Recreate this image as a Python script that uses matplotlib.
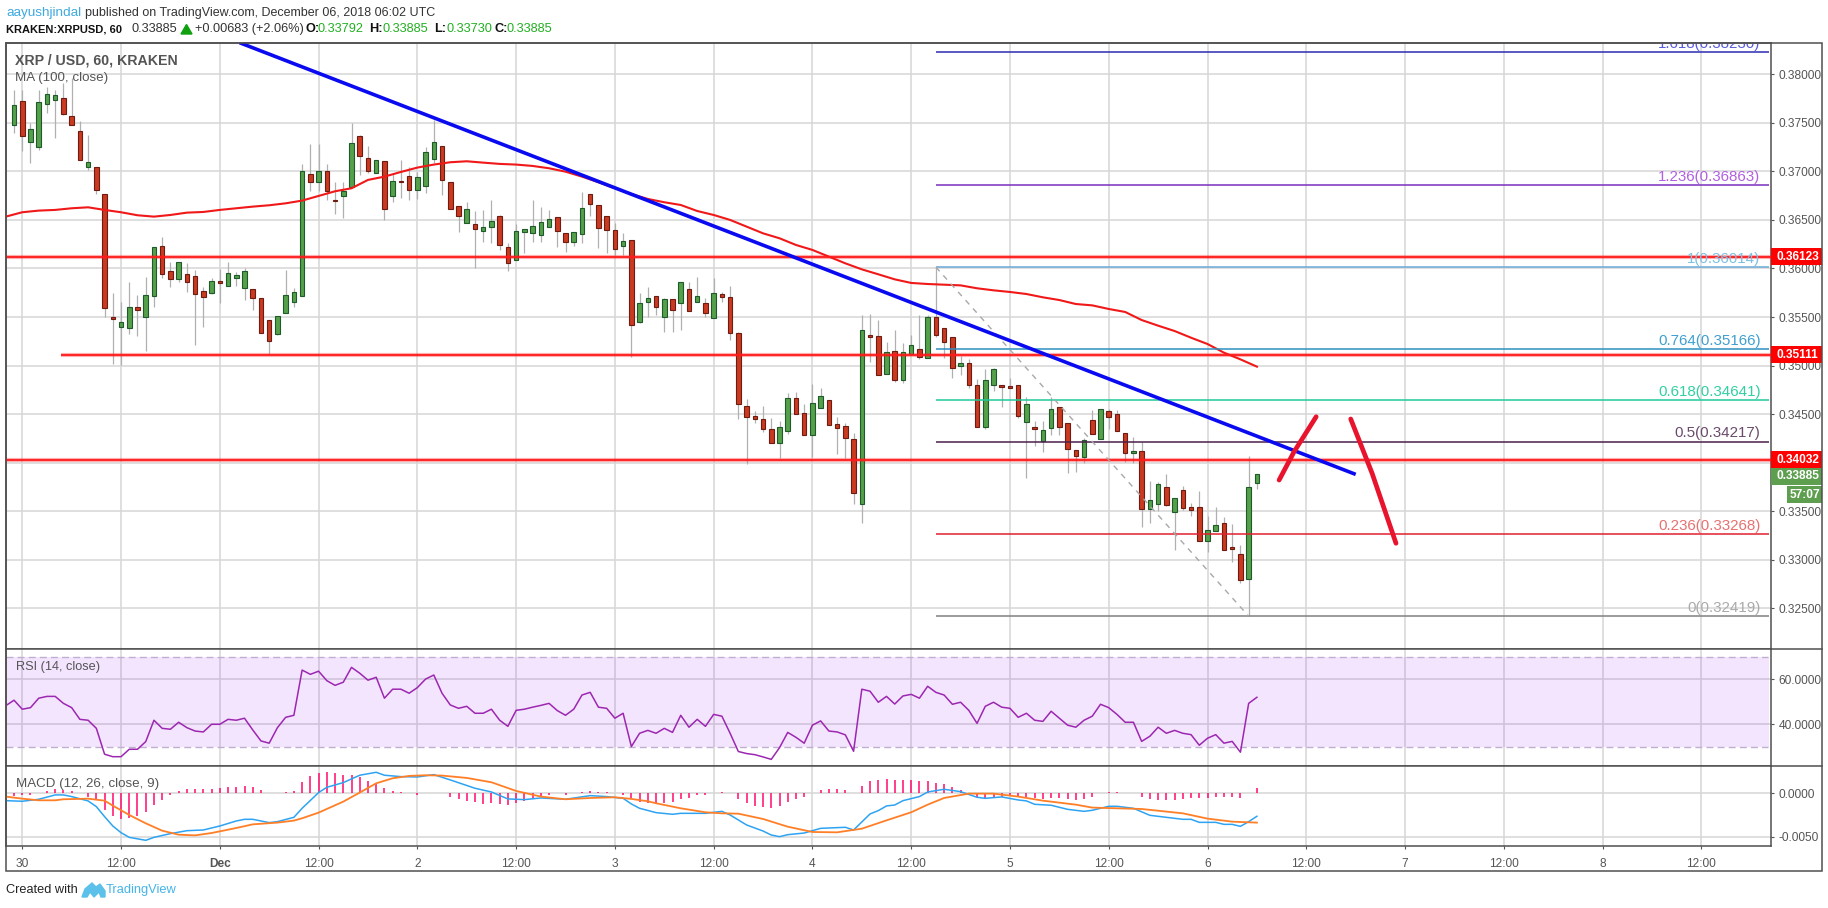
"""Hourly XRP/USD candles with trend lines, RSI and MACD panes."""

import matplotlib
matplotlib.use("Agg")
import matplotlib.pyplot as plt
from matplotlib.lines import Line2D
from matplotlib.patches import Polygon, Rectangle
import numpy as np

# Palette
INK = "#333333"
MUTED = "#555555"
FRAME = "#4f4f4f"
GRID = "#d6d6d6"
UP = "#55a04a"
UP_EDGE = "#1f5a2a"
DOWN = "#c93a20"
DOWN_EDGE = "#6e1c12"
WICK = "#b0b0b0"
LEVEL = "#ff1a1a"
TREND = "#0a0af0"
STROKE = "#e8142e"
TAG_GREEN = "#5d9f4f"
LINK = "#3fa9e0"
QUOTE = "#21b021"

plt.rcParams["font.family"] = ["Liberation Sans", "DejaVu Sans"]

W, H = 1828, 908
LEFT, RIGHT = 6.3, 1770.5      # pane edges, pixels

# open, high, low, close for every hour, first row is Nov 29 23:00
ohlc = [
    (.37482, .37839, .37399, .37681), (.37722, .37839, .37214, .37368), (.37307, .37495, .37090, .37434),
    (.37255, .37839, .37224, .37712), (.37698, .37866, .37605, .37794), (.37739, .37839, .37348, .37784),
    (.37753, .37907, .37581, .37595), (.37568, .37959, .37482, .37482), (.37413, .37523, .37121, .37121),
    (.37049, .37375, .37015, .37094), (.37042, .37042, .36767, .36812), (.36764, .36764, .35504, .35590),
    (.35497, .35744, .35019, .35483), (.35394, .35658, .35006, .35445), (.35390, .35864, .35329, .35600),
    (.35600, .35727, .35305, .35576), (.35504, .35916, .35153, .35723), (.35720, .36218, .35600, .36218),
    (.36228, .36321, .35905, .35940), (.35971, .36070, .35813, .35888), (.35888, .36063, .35864, .36063),
    (.35940, .36053, .35761, .35864), (.35919, .35984, .35215, .35741), (.35765, .35813, .35401, .35710),
    (.35751, .35899, .35737, .35868), (.35868, .35991, .35648, .35854), (.35823, .36067, .35823, .35950),
    (.35899, .35960, .35820, .35933), (.35796, .36002, .35675, .35971), (.35792, .35792, .35572, .35693),
    (.35693, .35693, .35332, .35339), (.35466, .35466, .35119, .35256), (.35329, .35507, .35318, .35507),
    (.35538, .35984, .35538, .35723), (.35658, .35796, .35607, .35754), (.35720, .37077, .35720, .37001),
    (.36970, .37279, .36802, .36894), (.36894, .37279, .36802, .37001), (.37001, .37077, .36706, .36802),
    (.36706, .36894, .36561, .36699), (.36750, .36894, .36524, .36795), (.36843, .37495, .36843, .37289),
    (.37361, .37375, .36963, .37162), (.37135, .37262, .36987, .37008), (.36987, .37114, .36980, .37114),
    (.37104, .37104, .36500, .36616), (.36750, .36980, .36688, .36898), (.36901, .37118, .36723, .36891),
    (.36949, .37049, .36706, .36812), (.36812, .36997, .36713, .36939), (.36853, .37255, .36781, .37197),
    (.37131, .37530, .37083, .37300), (.37258, .37258, .36757, .36915), (.36888, .36888, .36616, .36616),
    (.36640, .36640, .36379, .36544), (.36472, .36688, .36472, .36609), (.36455, .36596, .36008, .36410),
    (.36390, .36603, .36276, .36424), (.36431, .36706, .36266, .36486), (.36537, .36551, .36191, .36245),
    (.36218, .36259, .35978, .36060), (.36084, .36458, .36084, .36383), (.36373, .36410, .36156, .36403),
    (.36369, .36706, .36276, .36434), (.36348, .36630, .36276, .36475), (.36431, .36603, .36431, .36506),
    (.36527, .36527, .36225, .36390), (.36362, .36369, .36173, .36276), (.36269, .36373, .36232, .36373),
    (.36359, .36791, .36266, .36620), (.36764, .36764, .36541, .36668), (.36651, .36651, .36208, .36414),
    (.36537, .36537, .36156, .36393), (.36393, .36472, .36139, .36204), (.36235, .36362, .36139, .36280),
    (.36290, .36290, .35092, .35421), (.35452, .35744, .35442, .35641), (.35651, .35813, .35504, .35693),
    (.35713, .35713, .35521, .35607), (.35504, .35693, .35349, .35682), (.35682, .35682, .35349, .35576),
    (.35648, .35857, .35366, .35857), (.35785, .35864, .35566, .35566), (.35658, .35916, .35658, .35713),
    (.35641, .35693, .35504, .35545), (.35493, .35899, .35493, .35744), (.35734, .35761, .35658, .35710),
    (.35703, .35820, .35263, .35332), (.35332, .35349, .34449, .34601), (.34580, .34655, .33982, .34474),
    (.34477, .34532, .34412, .34446), (.34446, .34583, .34319, .34343), (.34343, .34456, .34206, .34206),
    (.34206, .34429, .34044, .34364), (.34329, .34714, .34295, .34662), (.34662, .34728, .34504, .34504),
    (.34508, .34604, .34284, .34284), (.34284, .34806, .34061, .34611), (.34566, .34765, .34566, .34683),
    (.34642, .34642, .34391, .34391), (.34395, .34467, .34089, .34360), (.34374, .34405, .34044, .34257),
    (.34240, .34302, .33574, .33691), (.33577, .35521, .33381, .35363), (.35311, .35531, .35040, .35298),
    (.35301, .35469, .34906, .34906), (.34916, .35239, .34916, .35136), (.35147, .35366, .34834, .34855),
    (.34855, .35229, .34817, .35136), (.35123, .35315, .35123, .35208), (.35167, .35521, .35064, .35092),
    (.35074, .35521, .35074, .35497), (.35497, .36014, .35298, .35318), (.35384, .35384, .35081, .35246),
    (.35291, .35291, .34875, .34971), (.34999, .35098, .34903, .35023), (.35023, .35064, .34772, .34796),
    (.34796, .34858, .34364, .34364), (.34370, .34961, .34346, .34848), (.34796, .34971, .34741, .34961),
    (.34796, .34796, .34577, .34783), (.34793, .34868, .34772, .34772), (.34796, .34796, .34456, .34484),
    (.34415, .34673, .33845, .34601), (.34364, .34429, .34175, .34343), (.34226, .34429, .34113, .34333),
    (.34353, .34673, .34284, .34549), (.34570, .34570, .34284, .34370), (.34405, .34405, .33897, .34137),
    (.34127, .34127, .33907, .34072), (.34061, .34250, .33993, .34230), (.34436, .34542, .34298, .34298),
    (.34247, .34549, .34247, .34549), (.34528, .34549, .34346, .34474), (.34497, .34542, .34329, .34329),
    (.34302, .34302, .34010, .34103), (.34103, .34267, .34000, .34116), (.34116, .34216, .33334, .33519),
    (.33519, .33811, .33381, .33612), (.33577, .33797, .33502, .33776), (.33745, .33883, .33557, .33567),
    (.33495, .33632, .33100, .33632), (.33715, .33759, .33512, .33536), (.33539, .33588, .33450, .33509),
    (.33539, .33708, .33196, .33196), (.33196, .33450, .33083, .33303), (.33299, .33546, .33299, .33354),
    (.33375, .33443, .33097, .33097), (.33127, .33368, .32980, .33114), (.33055, .33151, .32763, .32787),
    (.32798, .34068, .32419, .33745), (.33792, .33885, .33730, .33885),
]

# MA (100) read every second hour from hour -2
ma100 = [
    .36534, .36579, .36596, .36603, .36620, .36630, .36603, .36579, .36548, .36534, .36551, .36575, .36582,
    .36603, .36620, .36637, .36651, .36671, .36699, .36747, .36795, .36826, .36912, .36946, .36994, .37039,
    .37070, .37094, .37104, .37090, .37077, .37070, .37056, .37032, .36997, .36946, .36888, .36826, .36767,
    .36716, .36682, .36654, .36592, .36551, .36500, .36431, .36362, .36311, .36242, .36191, .36122, .36053,
    .35991, .35940, .35888, .35851, .35840, .35833, .35826, .35796, .35775, .35758, .35737, .35703, .35675,
    .35634, .35620, .35583, .35552, .35469, .35411, .35356, .35287, .35222, .35133, .35064, .34989,
]

# RSI (14) for every hour from hour -2
rsi = [
    48.3, 50.7, 46.7, 47.4, 51.6, 52.4, 52.4, 49.3, 47.4, 42.2, 41.8, 38.2, 26.7, 25.6, 25.6, 28.9, 28.9, 32.3,
    41.8, 38.2, 37.8, 40.9, 38.5, 37.0, 36.6, 40.0, 40.0, 42.2, 41.8, 42.7, 37.5, 32.6, 31.6, 38.5, 43.1, 44.0,
    64.1, 62.2, 63.6, 59.4, 57.3, 58.7, 65.3, 62.7, 59.6, 60.9, 51.6, 55.6, 55.6, 53.8, 56.3, 60.1, 61.9, 53.8,
    48.6, 47.1, 48.0, 44.9, 44.9, 46.7, 41.8, 39.1, 46.2, 46.7, 47.6, 48.4, 49.3, 46.1, 44.0, 46.7, 53.0, 54.2,
    47.6, 47.1, 42.7, 44.9, 30.1, 36.0, 37.3, 36.0, 38.2, 36.4, 44.0, 38.7, 42.2, 39.1, 44.4, 43.6, 36.0, 27.9,
    27.0, 26.5, 25.5, 24.4, 29.6, 36.4, 34.2, 31.6, 39.6, 41.5, 37.0, 36.6, 35.3, 28.0, 55.6, 54.7, 49.8, 52.4,
    49.0, 52.6, 53.3, 51.6, 56.9, 54.2, 53.0, 48.9, 49.8, 46.2, 40.4, 48.0, 49.8, 47.6, 47.1, 43.1, 44.9, 41.8,
    41.3, 45.8, 42.7, 39.6, 38.7, 41.8, 43.6, 48.9, 47.4, 44.4, 40.9, 40.9, 32.4, 34.7, 38.7, 36.0, 37.3, 36.0,
    35.4, 30.7, 33.8, 35.4, 31.6, 32.4, 27.6, 49.3, 52.0,
]

# MACD line as (hour, value)
macd = [
    (-2, -.00085), (0, -.00092), (2, -.00069), (4, -.00019), (5, -.00019), (6, -.00038), (8, -.00088), (9, -.00154),
    (10, -.00269), (11, -.00377), (12, -.00454), (13, -.00508), (15, -.00542), (16, -.00508), (18, -.00465),
    (20, -.00431), (22, -.00423), (24, -.00377), (26, -.00319), (27, -.00300), (28, -.00300), (30, -.00338),
    (31, -.00327), (33, -.00277), (34, -.00173), (36, .00008), (37, .00069), (39, .00123), (41, .00208), (43, .00242),
    (44, .00208), (46, .00192), (48, .00188), (50, .00215), (52, .00154), (55, .00058), (57, .00015), (59, -.00065),
    (61, -.00073), (63, -.00054), (66, -.00069), (69, -.00027), (71, -.00038), (73, -.00058), (74, -.00123),
    (75, -.00173), (77, -.00223), (79, -.00242), (80, -.00231), (83, -.00231), (85, -.00208), (86, -.00250),
    (88, -.00365), (90, -.00435), (91, -.00481), (92, -.00500), (93, -.00477), (95, -.00458), (97, -.00404),
    (100, -.00392), (101, -.00423), (103, -.00238), (104, -.00200), (105, -.00146), (106, -.00135), (107, -.00085),
    (109, -.00038), (110, .00015), (112, .00046), (114, .00019), (116, -.00046), (117, -.00058), (119, -.00042),
    (121, -.00077), (122, -.00088), (123, -.00127), (125, -.00138), (127, -.00185), (129, -.00208), (130, -.00196),
    (132, -.00150), (133, -.00150), (135, -.00173), (137, -.00254), (139, -.00277), (141, -.00300), (142, -.00300),
    (143, -.00335), (145, -.00335), (146, -.00358), (147, -.00358), (148, -.00381), (149, -.00327), (150, -.00265),
]

# signal line as (hour, value)
signal = [
    (-2, -.00038), (0, -.00062), (2, -.00081), (4, -.00081), (5, -.00069), (8, -.00062), (10, -.00085), (11, -.00142),
    (13, -.00250), (15, -.00346), (17, -.00431), (19, -.00477), (21, -.00485), (23, -.00458), (26, -.00400),
    (28, -.00358), (31, -.00338), (33, -.00315), (34, -.00288), (36, -.00223), (39, -.00096), (41, .00008), (43, .00115),
    (45, .00173), (47, .00200), (49, .00208), (51, .00204), (54, .00177), (57, .00127), (60, .00027), (63, -.00038),
    (66, -.00069), (69, -.00054), (72, -.00046), (74, -.00065), (76, -.00092), (77, -.00115), (80, -.00173),
    (83, -.00219), (85, -.00231), (87, -.00235), (90, -.00296), (93, -.00385), (96, -.00446), (99, -.00450),
    (102, -.00408), (105, -.00312), (108, -.00219), (110, -.00131), (112, -.00054), (115, -.00004), (118, -.00004),
    (121, -.00038), (124, -.00085), (128, -.00131), (130, -.00165), (133, -.00173), (136, -.00181), (141, -.00231),
    (144, -.00292), (147, -.00327), (150, -.00338),
]

# histogram for every hour from hour -1, in units of 0.00001
hist = [
    -31, -23, -19, -2, 31, 46, 38, 31, 0, -38, -69, -192, -262, -296, -281, -262, -215, -135, -77, -19, 27, 50, 50, 50,
    54, 65, 73, 73, 85, 73, 42, 8, 8, 15, 27, 131, 204, 235, 246, 235, 212, 212, 188, 142, 123, 65, 31, 15, 0, -15, 0, 4,
    0, -42, -62, -92, -104, -119, -112, -123, -135, -108, -85, -69, -38, -19, 0, -15, 0, 19, 31, 15, 15, 0, -19, -58,
    -104, -115, -123, -108, -100, -65, -50, -19, -15, 0, 19, 0, -62, -112, -146, -158, -165, -146, -96, -62, -38, 0, 42,
    50, 50, 38, 0, 88, 142, 154, 165, 158, 154, 154, 142, 142, 119, 108, 73, 38, 0, -42, -50, -46, -38, -31, -38, -46,
    -58, -65, -54, -54, -62, -73, -62, -38, 0, 15, 15, 4, 4, -38, -62, -73, -73, -73, -62, -54, -54, -50, -38, -38, -38,
    -50, 4, 62,
]

# level, label colour, line colour
fib_levels = [
    ("1.618", .38230, "#5a5ae0", "#2b2bb0"), ("1.236", .36863, "#b060e0", "#7b2fbe"),
    ("1", .36014, "#7cc0e4", "#6aa9d6"), ("0.764", .35166, "#3f9fd0", "#2f8fc0"),
    ("0.618", .34641, "#30d0a0", "#1fc99a"), ("0.5", .34217, "#6a4a6a", "#4a1f4a"),
    ("0.236", .33268, "#e87070", "#e02030"), ("0", .32419, "#aaaaaa", "#808080"),
]

hours = np.arange(-1, 151)
ticks = np.arange(0, 205, 12)
tick_labels = ["30", "12:00", "Dec", "12:00", "2", "12:00", "3", "12:00", "4", "12:00", "5", "12:00", "6",
               "12:00", "7", "12:00", "8", "12:00"]

fig = plt.figure(figsize=(W / 100, H / 100), dpi=100, facecolor="white")


def pane(top, bottom, y0, y1):
    ax = fig.add_axes([LEFT / W, 1 - bottom / H, (RIGHT - LEFT) / W, (bottom - top) / H])
    ax.set_xlim(-1.94, 212.4)
    ax.set_ylim(y0, y1)
    ax.set_axisbelow(True)
    ax.set_xticks(ticks)
    ax.grid(True, color=GRID, linewidth=1.1)
    ax.yaxis.tick_right()
    ax.tick_params(axis="y", length=2.5, width=0.8, color=MUTED, labelcolor=MUTED, labelsize=8.6, pad=3.5)
    ax.tick_params(axis="x", length=0, labelbottom=False)
    for side in ax.spines.values():
        side.set_color(FRAME)
        side.set_linewidth(1.1)
    return ax


def px_text(x, y, s, color=INK, size=9.2, weight="normal"):
    fig.text(x / W, 1 - y / H, s, color=color, fontsize=size, fontweight=weight, ha="left", va="center")


def price_tag(y, label, color, height=.00175, width=51, x=0.0, pad=6):
    ax.add_patch(Rectangle((1 + x / (RIGHT - LEFT), y - height / 2), width / (RIGHT - LEFT), height, facecolor=color,
                           edgecolor="none", transform=ax.get_yaxis_transform(), clip_on=False, zorder=6))
    ax.text(1 + (x + pad) / (RIGHT - LEFT), y, label, color="white", fontsize=8.6, fontweight="bold", ha="left",
            va="center", transform=ax.get_yaxis_transform(), clip_on=False, zorder=7)


# Price pane
ax = pane(43.3, 649.3, .32078, .38319)
ax.set_yticks([.325, .33, .335, .34, .345, .35, .355, .36, .365, .37, .375, .38])
ax.set_yticklabels(["%.5f" % v for v in ax.get_yticks()])

opens, highs, lows, closes = np.array(ohlc).T
up = closes >= opens
ax.vlines(hours, lows, highs, color=WICK, linewidth=0.9, zorder=2)
ax.bar(hours[up], (closes - opens)[up], bottom=opens[up], width=0.55, color=UP, edgecolor=UP_EDGE, linewidth=0.8, zorder=3)
ax.bar(hours[~up], (closes - opens)[~up], bottom=opens[~up], width=0.55, color=DOWN, edgecolor=DOWN_EDGE,
       linewidth=0.8, zorder=3)

ax.plot(np.arange(-2, 151, 2), ma100, color="#f01818", linewidth=1.5, zorder=4)

for level, start in [(.36123, -1.94), (.35111, 4.7), (.34032, -1.94)]:
    ax.hlines(level, start, 212.4, color=LEVEL, alpha=0.35, linewidth=3, zorder=4)
    ax.hlines(level, start, 212.4, color=LEVEL, linewidth=1.3, zorder=4)

for name, level, text_color, line_color in fib_levels:
    ax.hlines(level, 111, 212.2, color=line_color, linewidth=1.1, zorder=4)
    ax.text(211.2, level + .00012, "%s(%.5f)" % (name, level), color=text_color, fontsize=10.9, ha="right",
            va="bottom", clip_on=True, zorder=5)

ax.plot([111, 149], [.36014, .32419], color="#a8a8a8", linewidth=1, linestyle=(0, (4, 4)), zorder=4)  # fib diagonal
ax.plot([26.6, 161.8], [.38319, .33886], color=TREND, linewidth=2.6, zorder=5)  # falling trend line
ax.plot([152.7, 154.5, 157.2], [.33821, .34110, .34473], color=STROKE, linewidth=3.4, solid_capstyle="round", zorder=5)
ax.plot([161.4, 164.0, 166.9], [.34450, .33890, .33170], color=STROKE, linewidth=3.4, solid_capstyle="round", zorder=5)

price_tag(.36123, "0.36123", "#ff0000")
price_tag(.35111, "0.35111", "#ff0000")
price_tag(.34032, "0.34032", "#ff0000")
price_tag(.33860, "0.33885", TAG_GREEN)  # pushed down clear of the red tag
price_tag(.33672, "57:07", TAG_GREEN, width=35, x=16, pad=3)

# RSI pane
ax = pane(649.3, 766.3, 21.33, 73.33)
ax.set_yticks([40, 60])
ax.set_yticklabels(["40.0000", "60.0000"])
ax.axhspan(30, 70, xmax=0.9994, facecolor="#9900ff", alpha=0.1, edgecolor="none", zorder=1.5)
for level in (30, 70):
    ax.hlines(level, -1.94, 212.1, color="#bfaecf", linewidth=1, linestyle=(0, (5, 3)), zorder=2)
ax.plot(np.arange(-2, 151), rsi, color="#9c27b0", linewidth=1.1, zorder=3)

# MACD pane
ax = pane(766.3, 846.3, -.00611, .00311)
ax.set_yticks([-.005, 0])
ax.set_yticklabels(["-0.0050", "0.0000"])
ax.vlines(hours, 0, np.array(hist) * 1e-5, color="#ff0a6c", linewidth=1.1, zorder=2)
ax.plot(*zip(*macd), color="#2ea3f2", linewidth=1.1, zorder=3)
ax.plot(*zip(*signal), color="#ff7f27", linewidth=1.3, zorder=4)
ax.tick_params(axis="x", length=2.5, width=0.8, color=MUTED, labelbottom=True, labelsize=8.6, labelcolor=MUTED, pad=6)
ax.set_xticklabels(tick_labels)
ax.get_xticklabels()[2].set_fontweight("bold")

# Frame around everything
fig.add_artist(Rectangle((LEFT / W, 1 - 871.3 / H), (1821.5 - LEFT) / W, (871.3 - 43.3) / H, fill=False,
                         edgecolor=FRAME, linewidth=1.1, transform=fig.transFigure))
for y in (649.3, 766.3):
    fig.add_artist(Line2D([RIGHT / W, 1821.5 / W], [1 - y / H, 1 - y / H], color=FRAME, linewidth=1.1))

# Pane captions
px_text(15, 60.7, "XRP / USD, 60, KRAKEN", color=MUTED, size=10.2, weight="bold")
px_text(15, 77.7, "MA (100, close)", color=MUTED, size=9.6)
px_text(15.6, 666.7, "RSI (14, close)", color=MUTED, size=9.2)
px_text(15.6, 783.7, "MACD (12, 26, close, 9)", color=MUTED, size=9.6)

# Header
px_text(6.3, 12.7, "aayushjindal", color=LINK, size=9.7)
px_text(85, 12.7, "published on TradingView.com, December 06, 2018 06:02 UTC", size=9)
px_text(6.3, 29.3, "KRAKEN:XRPUSD, 60", size=8, weight="bold", color="#111111")
px_text(131.7, 29.3, "0.33885", size=9.2)
fig.add_artist(Polygon([(181 / W, 1 - 34 / H), (192 / W, 1 - 34 / H), (186.5 / W, 1 - 24.5 / H)], color="#0fa00f",
                       transform=fig.transFigure))
px_text(195.3, 29.3, "+0.00683 (+2.06%)", size=9.2)
for x, name, value in [(305, "O:", "0.33792"), (369.3, "H:", "0.33885"), (433.8, "L:", "0.33730"), (494, "C:", "0.33885")]:
    px_text(x, 29.3, name, size=9.2, weight="bold", color="#111111")
    px_text(x + 13, 29.3, value, size=9.2, color=QUOTE)

# Footer
px_text(6.3, 890.3, "Created with", color="#222222", size=9.2)
px_text(106, 890.3, "TradingView", color="#45b4e8", size=9.3)
fig.add_artist(Polygon([(px / W, 1 - py / H) for px, py in [(82, 897), (85, 889), (92, 883), (96, 887), (100, 884),
                                                            (105, 891), (105, 897), (101, 897), (99, 892), (94, 897),
                                                            (90, 892), (87, 897)]],
                       color="#5cc1ea", transform=fig.transFigure))

fig.savefig("out.png", facecolor="white")
